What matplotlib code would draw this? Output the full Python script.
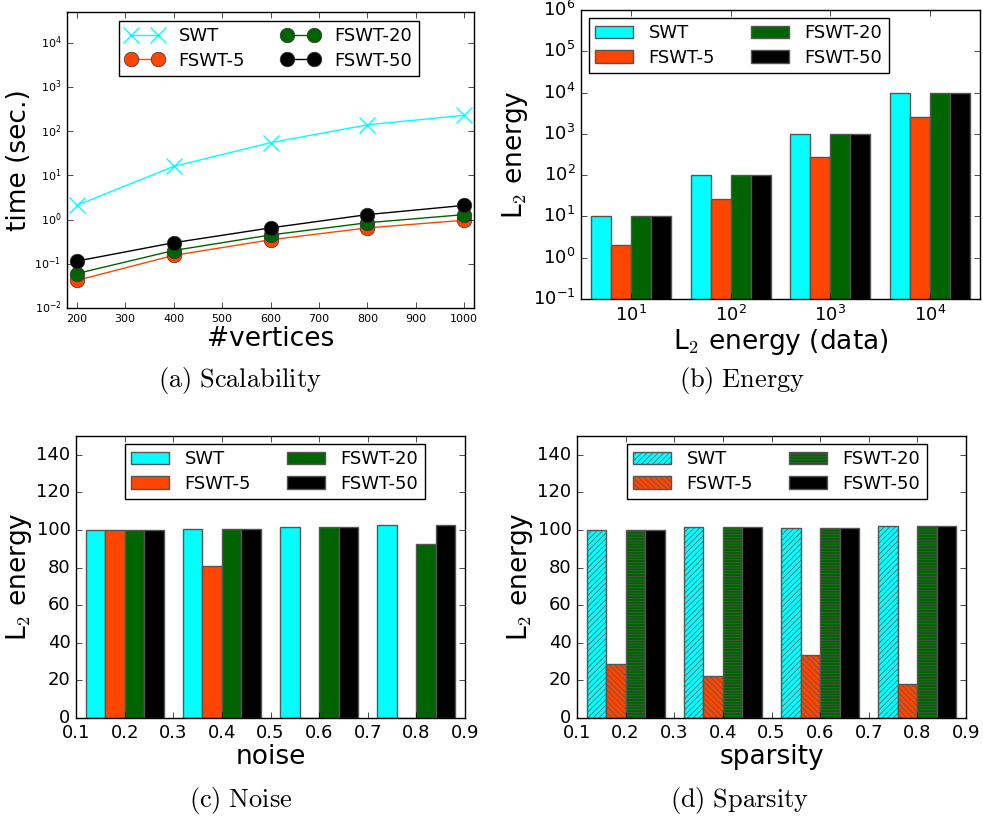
import matplotlib
matplotlib.use('Agg')
import matplotlib.pyplot as plt
import numpy as np

plt.style.use('classic')
plt.rcParams['figure.facecolor'] = 'white'
plt.rcParams['savefig.facecolor'] = 'white'
plt.rcParams['hatch.linewidth'] = 0.5
plt.rcParams['mathtext.fontset'] = 'dejavusans'

names = ['SWT', 'FSWT-5', 'FSWT-20', 'FSWT-50']
colors = ['#00FFFF', '#FF4500', '#006400', '#000000']

# (a) scalability
vertices = [200, 400, 600, 800, 1000]
time_swt = [2.1, 16, 55, 140, 230]
time_f5 = [0.042, 0.155, 0.35, 0.65, 0.97]
time_f20 = [0.06, 0.2, 0.45, 0.85, 1.3]
time_f50 = [0.115, 0.3, 0.65, 1.3, 2.1]

# (b) energy
energy_labels = ['$10^1$', '$10^2$', '$10^3$', '$10^4$']
energy_swt = [10, 100, 1000, 10000]
energy_f5 = [2, 27, 270, 2600]
energy_f20 = [10, 100, 1000, 10000]
energy_f50 = [10, 100, 1000, 10000]

# (c) noise
noise = [0.2, 0.4, 0.6, 0.8]
noise_swt = [100, 100.7, 101.8, 102.8]
noise_f5 = [100, 80.8, 0, 0]
noise_f20 = [100, 100.7, 101.8, 92.8]
noise_f50 = [100, 100.7, 101.8, 102.8]

# (d) sparsity
sparsity = [0.2, 0.4, 0.6, 0.8]
sparse_swt = [100, 101.8, 101.3, 102]
sparse_f5 = [28.7, 22.3, 33.5, 18.1]
sparse_f20 = [100, 101.8, 101.3, 102]
sparse_f50 = [100, 101.8, 101.3, 102]

fig = plt.figure(figsize=(9.83, 8.21), dpi=100)
W, H = 983.0, 821.0

def ax_px(l, t, r, b):
    return fig.add_axes([l / W, 1 - b / H, (r - l) / W, (b - t) / H])

edge = '#555555'
L2 = r'L$_2$ energy'
leg_kw = dict(ncol=2, loc='upper left', bbox_transform=fig.transFigure, fontsize=13,
              columnspacing=2.0, handlelength=2.1, handletextpad=0.85,
              borderpad=0.35, labelspacing=0.35, borderaxespad=0)

# ---- (a)
ax = ax_px(67, 12, 474, 308)
ax.plot(vertices, time_swt, '-x', color=colors[0], mec=colors[0], ms=11, mew=1, label='SWT')
ax.plot(vertices, time_f5, '-o', color=colors[1], mec='#333333', ms=10.5, label='FSWT-5')
ax.plot(vertices, time_f20, '-o', color=colors[2], mec='#333333', ms=10.5, label='FSWT-20')
ax.plot(vertices, time_f50, '-o', color=colors[3], mec='#333333', ms=10.5, label='FSWT-50')
ax.set_yscale('log')
ax.set_ylim(1e-2, 5e4)
ax.set_xlim(180, 1020)
ax.set_xticks([200, 300, 400, 500, 600, 700, 800, 900, 1000])
ax.tick_params(labelsize=8)
ax.minorticks_off()
ax.set_xlabel('#vertices', fontsize=19, labelpad=2)
ax.set_ylabel('time (sec.)', fontsize=19, labelpad=2)
ax.legend(bbox_to_anchor=(119 / W, 1 - 21 / H), numpoints=2, **leg_kw)

# ---- (b)
ax = ax_px(581, 10, 980, 299)
x = np.arange(len(energy_labels))
bw = 0.2
for j, vals in enumerate([energy_swt, energy_f5, energy_f20, energy_f50]):
    ax.bar(x + 0.1 + j * bw, vals, bw, align='edge', color=colors[j], edgecolor=edge,
           label=names[j])
ax.set_yscale('log')
ax.set_ylim(0.1, 1e6)
ax.set_xlim(0, 4)
ax.set_xticks(x + 0.5)
ax.set_xticklabels(energy_labels)
ax.tick_params(labelsize=13)
ax.minorticks_off()
ax.set_xlabel(r'L$_2$ energy (data)', fontsize=19, labelpad=2, math_fontfamily='cm')
ax.set_ylabel(L2, fontsize=19, labelpad=2, math_fontfamily='cm')
ax.legend(bbox_to_anchor=(589 / W, 1 - 18 / H), **leg_kw)

# ---- (c)
def group_bars(ax, xs, series, hatches):
    xs = np.array(xs)
    w = 0.04
    for j, vals in enumerate(series):
        ax.bar(xs - 0.08 + j * w, vals, w, align='edge', color=colors[j], edgecolor=edge,
               hatch=hatches[j], label=names[j])
    ax.set_xlim(0.1, 0.9)
    ax.set_ylim(0, 150)
    ax.set_xticks([0.1, 0.2, 0.3, 0.4, 0.5, 0.6, 0.7, 0.8, 0.9])
    ax.set_yticks([0, 20, 40, 60, 80, 100, 120, 140])
    ax.tick_params(labelsize=13)
    ax.set_ylabel(L2, fontsize=19, labelpad=2, math_fontfamily='cm')

ax = ax_px(76, 436, 465, 718)
group_bars(ax, noise, [noise_swt, noise_f5, noise_f20, noise_f50], [None] * 4)
ax.set_xlabel('noise', fontsize=19, labelpad=2)
ax.legend(bbox_to_anchor=(125 / W, 1 - 444 / H), **leg_kw)

# ---- (d)
ax = ax_px(577, 436, 966, 718)
group_bars(ax, sparsity, [sparse_swt, sparse_f5, sparse_f20, sparse_f50],
           ['//////', '\\\\\\\\\\\\', '------', None])
ax.set_xlabel('sparsity', fontsize=19, labelpad=2)
ax.legend(bbox_to_anchor=(627 / W, 1 - 444 / H), **leg_kw)

# captions
caps = [(r'$\mathrm{(a)\ Scalability}$', 240, 380),
        (r'$\mathrm{(b)\ Energy}$', 742, 380),
        (r'$\mathrm{(c)\ Noise}$', 241, 800),
        (r'$\mathrm{(d)\ Sparsity}$', 740, 800)]
for txt, cx, cy in caps:
    fig.text(cx / W, 1 - cy / H, txt, ha='center', va='center', fontsize=19,
             math_fontfamily='cm')

fig.savefig('out.png', dpi=100)
